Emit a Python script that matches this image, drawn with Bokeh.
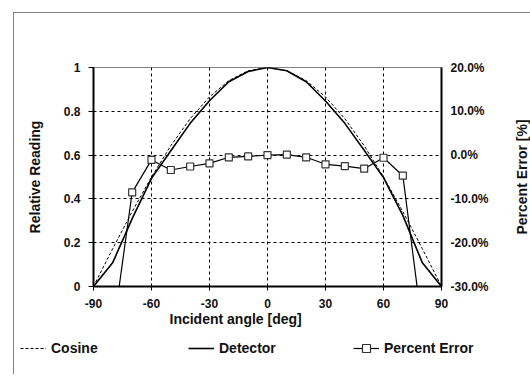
from bokeh.plotting import figure
from bokeh.layouts import column, row
from bokeh.models import (Range1d, LinearAxis, FixedTicker, PrintfTickFormatter,
                          Legend, LegendItem, Title)
from bokeh.embed import file_html
from bokeh.resources import INLINE

# ---- data ----
angle = [-90, -80, -70, -60, -50, -40, -30, -20, -10, 0, 10, 20, 30, 40, 50, 60, 70, 80, 90]
cosine = [0.0, 0.174, 0.342, 0.5, 0.643, 0.766, 0.866, 0.940, 0.985, 1.0,
          0.985, 0.940, 0.866, 0.766, 0.643, 0.5, 0.342, 0.174, 0.0]
detector = [0.0, 0.11, 0.31, 0.494, 0.62, 0.745, 0.848, 0.935, 0.982, 1.0,
            0.985, 0.935, 0.847, 0.745, 0.622, 0.497, 0.325, 0.11, 0.0]
err_angle = [-80, -70, -60, -50, -40, -30, -20, -10, 0, 10, 20, 30, 40, 50, 60, 70, 80]
pct_error = [-40.5, -8.5, -1.1, -3.4, -2.6, -1.9, -0.5, -0.3, 0.0, 0.1,
             -0.5, -2.1, -2.5, -3.1, -0.6, -4.7, -39.0]
x_ticks = [-90, -60, -30, 0, 30, 60, 90]
x_labels = ["-90", "-60", "-30", "0", "30", "60", "90"]
y_ticks = [0, 0.2, 0.4, 0.6, 0.8, 1]
y_labels = ["0", "0.2", "0.4", "0.6", "0.8", "1"]
pct_ticks = [-30, -20, -10, 0, 10, 20]

FONT = "Liberation Sans"
TXT = "#111111"
W = 516
H_MAIN = 325
TOP, BOTTOM = 54, 52

p = figure(width=477, height=H_MAIN, output_backend="svg", toolbar_location=None,
           x_range=Range1d(-90, 90), y_range=Range1d(0, 1),
           min_border_left=79, min_border_right=50, min_border_top=TOP, min_border_bottom=BOTTOM)
p.frame_align = False
p.extra_y_ranges = {"pct": Range1d(-30, 20)}
p.background_fill_color = "white"
p.border_fill_color = "white"
p.outline_line_color = "#808080"
p.outline_line_width = 1

for g in (p.xgrid, p.ygrid):
    g.grid_line_color = "black"
    g.grid_line_dash = "3 3"
    g.grid_line_width = 1
p.xgrid.ticker = FixedTicker(ticks=x_ticks)
p.ygrid.ticker = FixedTicker(ticks=y_ticks)

xa = p.xaxis[0]
xa.ticker = FixedTicker(ticks=x_ticks)
xa.major_label_overrides = {t: l for t, l in zip(x_ticks, x_labels)}
xa.major_tick_out = 4
xa.major_label_standoff = 8

ya = p.yaxis[0]
ya.ticker = FixedTicker(ticks=y_ticks)
ya.major_label_overrides = {t: l for t, l in zip(y_ticks, y_labels)}
ya.major_tick_out = 5
ya.major_label_standoff = 8
ya.axis_label = "Relative Reading"
ya.axis_label_standoff = 18

ra = LinearAxis(y_range_name="pct", ticker=FixedTicker(ticks=pct_ticks),
                formatter=PrintfTickFormatter(format="%.1f%%"))
ra.major_tick_out = 0
ra.major_label_standoff = 9
p.add_layout(ra, "right")

for ax in (xa, ya, ra):
    ax.axis_line_width = 2
    ax.axis_line_color = "black"
    ax.major_tick_in = 0
    ax.minor_tick_line_color = None
    ax.major_label_text_font = FONT
    ax.major_label_text_font_style = "bold"
    ax.major_label_text_font_size = "12px"
    ax.major_label_text_color = TXT
    ax.axis_label_text_font = FONT
    ax.axis_label_text_font_style = "bold"
    ax.axis_label_text_font_size = "14px"
    ax.axis_label_text_color = TXT
xa.major_label_text_line_height = 0.9

xt = Title(text="Incident angle [deg]", align="left", offset=76, standoff=-4,
           text_font=FONT, text_font_style="bold", text_font_size="14px",
           text_color=TXT, text_line_height=0.8)
p.add_layout(xt, "below")

def draw_series(fig):
    rc = fig.line(angle, cosine, line_color="black", line_dash="3 2", line_width=1)
    rd = fig.line(angle, detector, line_color="black", line_width=1.6)
    rl = fig.line(err_angle, pct_error, y_range_name="pct", line_color="black", line_width=1.2)
    rm = fig.scatter(err_angle, pct_error, y_range_name="pct", marker="square", size=7,
                     fill_color="white", line_color="#333333", line_width=1.2)
    return rc, rd, rl, rm

draw_series(p)

# right-hand title strip (reads bottom-to-top like the original)
f2 = figure(width=W - 477, height=H_MAIN, output_backend="svg", toolbar_location=None,
            x_range=Range1d(0, 1), y_range=Range1d(-30, 20),
            min_border_left=38, min_border_right=0, min_border_top=TOP, min_border_bottom=BOTTOM)
f2.frame_align = False
f2.xaxis.visible = False
f2.grid.visible = False
f2.outline_line_color = None
f2.background_fill_color = "white"
f2.border_fill_color = "white"
a2 = f2.yaxis[0]
a2.ticker = FixedTicker(ticks=[])
a2.axis_line_color = None
a2.major_tick_line_color = None
a2.minor_tick_line_color = None
a2.major_label_text_font_size = "0px"
a2.axis_label = "Percent Error [%]"
a2.axis_label_standoff = 0
a2.axis_label_text_font = FONT
a2.axis_label_text_font_style = "bold"
a2.axis_label_text_font_size = "14px"
a2.axis_label_text_color = TXT

# legend strip: same series drawn with ranges that keep them out of view
lg = figure(width=W, height=36, output_backend="svg", toolbar_location=None,
            x_range=Range1d(1000, 1001), y_range=Range1d(1000, 1001),
            min_border=0, min_border_left=0, min_border_right=0,
            min_border_top=0, min_border_bottom=0)
lg.frame_align = False
lg.extra_y_ranges = {"pct": Range1d(1000, 1001)}
lg.axis.visible = False
lg.grid.visible = False
lg.outline_line_color = None
lg.background_fill_color = "white"
lg.border_fill_color = "white"
rc, rd, rl, rm = draw_series(lg)

def mk_legend(label, renderers, loc):
    leg = Legend(items=[LegendItem(label=label, renderers=renderers)], location=loc,
                 orientation="horizontal", padding=0, margin=0, spacing=0,
                 glyph_width=26, glyph_height=20, label_standoff=5, label_height=20,
                 border_line_color=None, background_fill_alpha=0,
                 label_text_font=FONT, label_text_font_style="bold",
                 label_text_font_size="14px", label_text_color=TXT)
    lg.add_layout(leg, "center")

mk_legend("Cosine", [rc], (6, 16))
mk_legend("Detector", [rd], (174, 16))
mk_legend("Percent Error", [rl, rm], (339, 16))

layout = column(row(p, f2, spacing=0), lg, spacing=0,
                styles={"border-left": "1px solid #808080",
                        "border-top": "1px solid #808080",
                        "margin-left": "13px", "margin-top": "12px"})

open("out.html", "w").write(file_html(layout, INLINE))
